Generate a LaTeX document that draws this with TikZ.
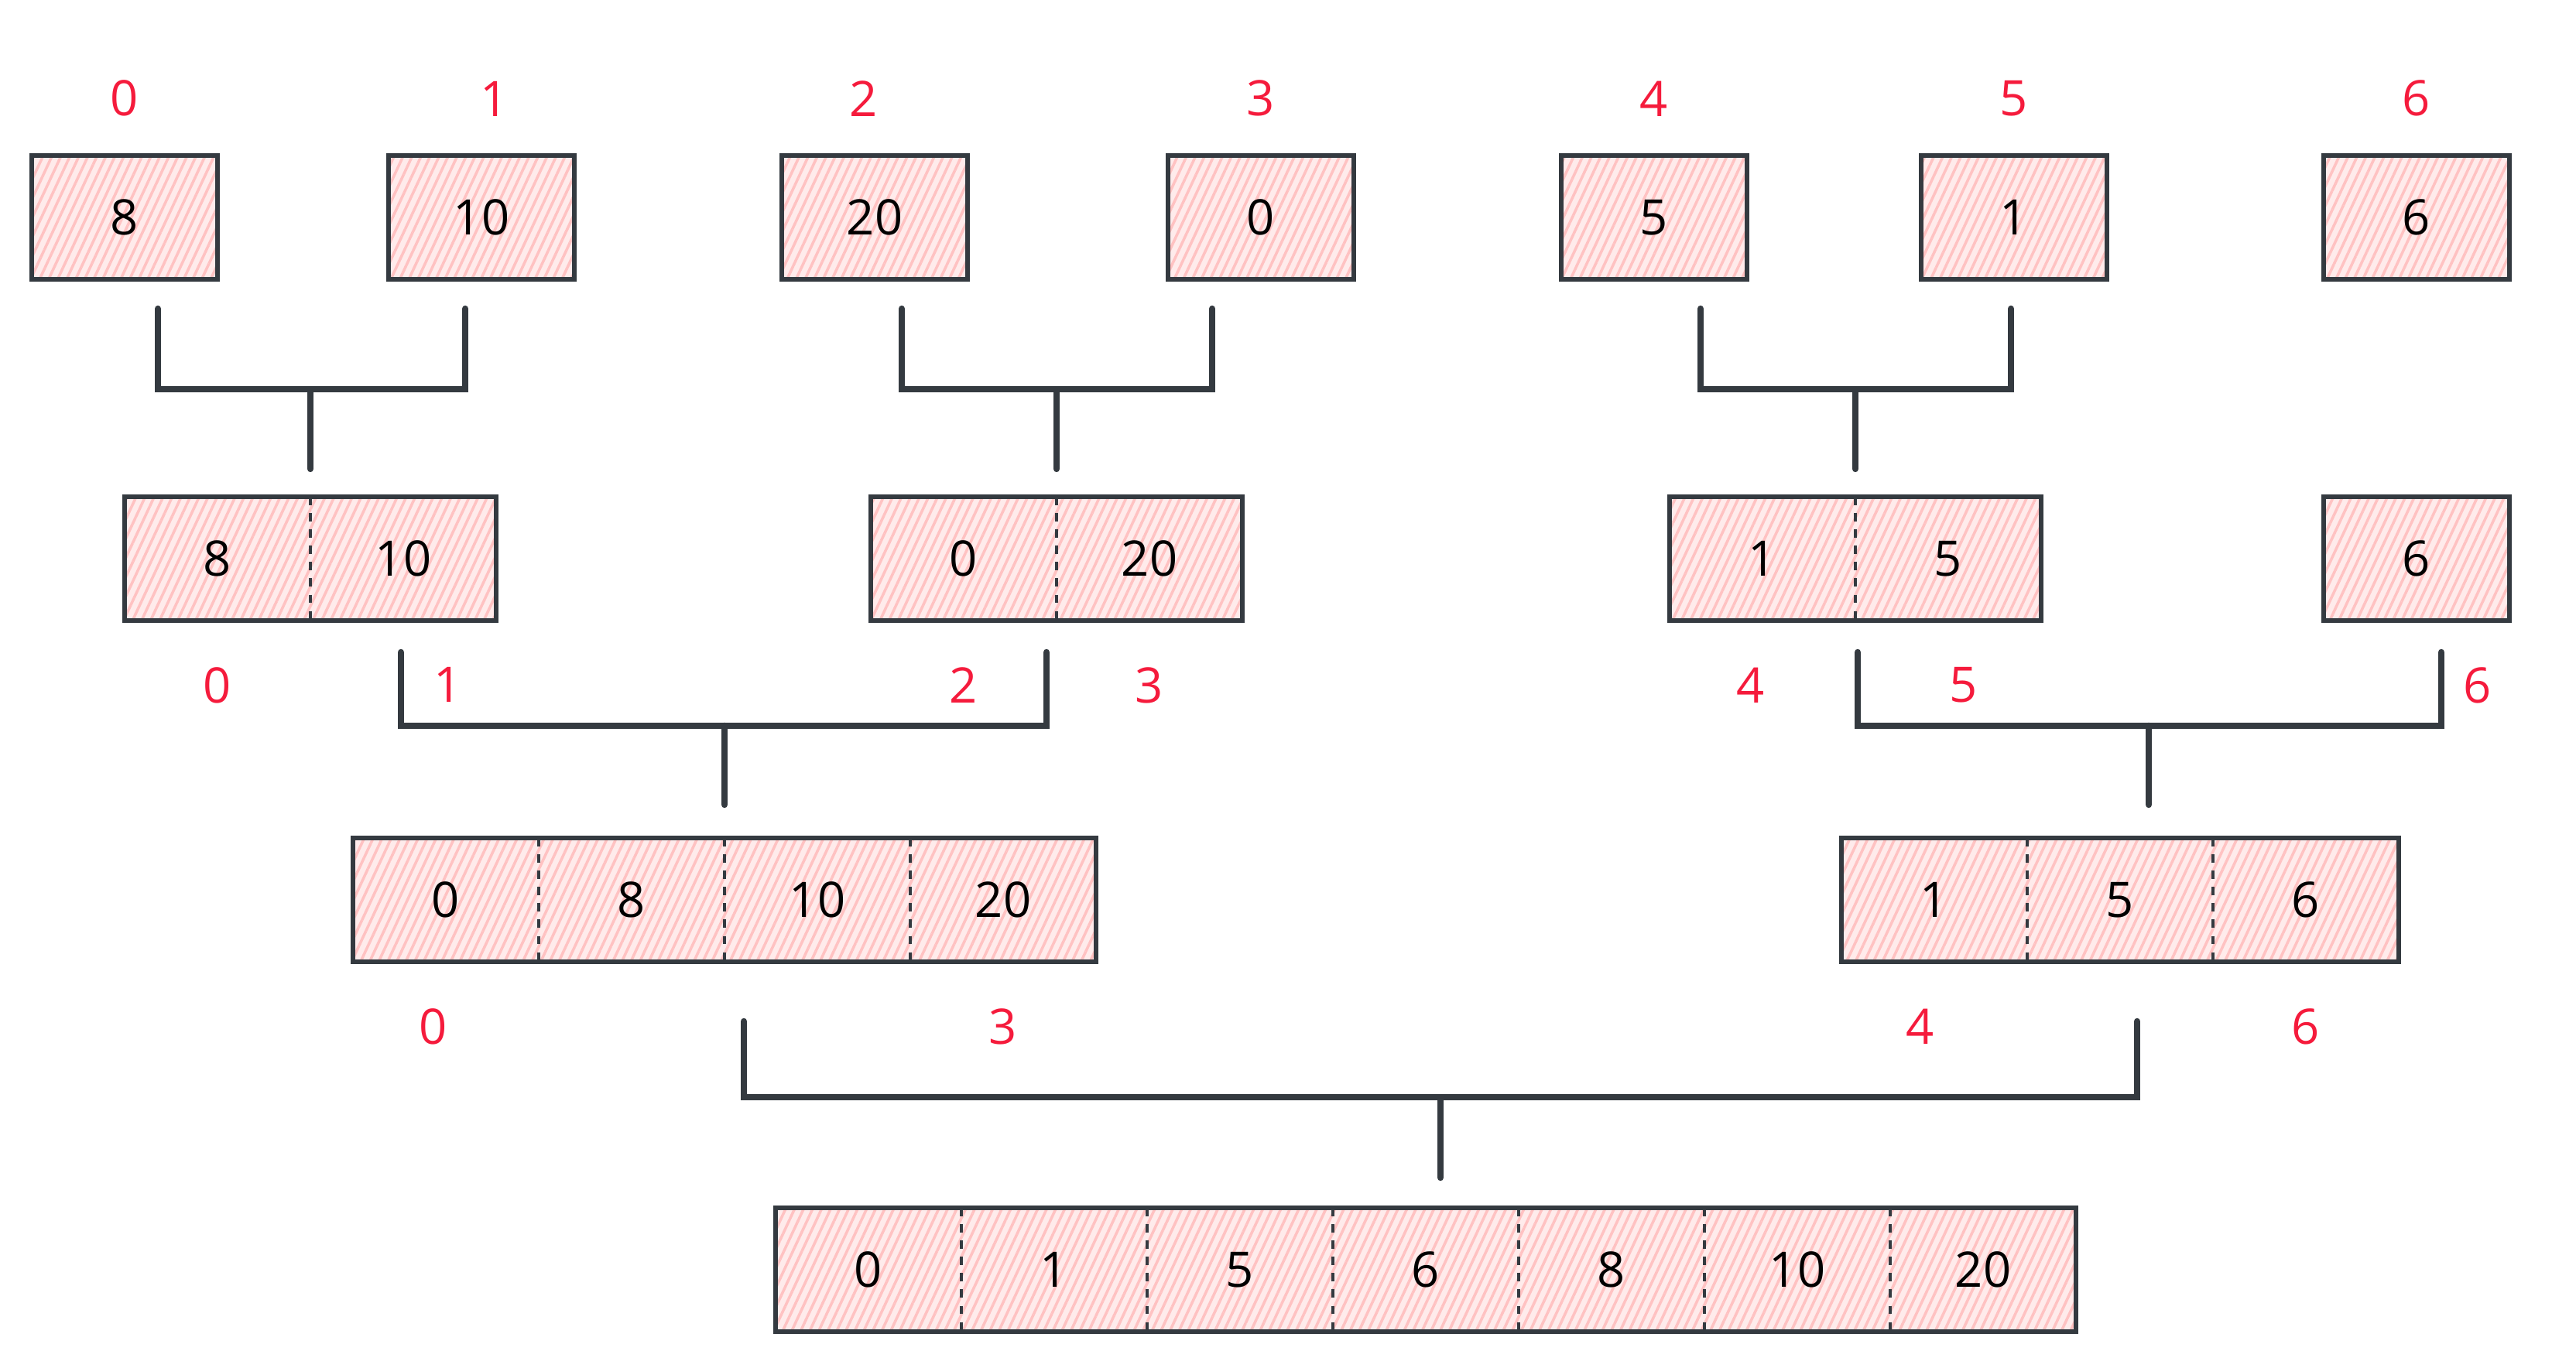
\documentclass[tikz,border=0pt]{standalone}
\usepackage{fontspec}
\setmainfont{Open Sans}
\usepackage{xcolor}
\usepackage{tikz}
\usetikzlibrary{positioning, patterns.meta}

\definecolor{ink}{HTML}{343A40}
\definecolor{idxred}{HTML}{F51B3C}
\definecolor{hatch}{HTML}{FFC2C2}
\definecolor{hatchbg}{HTML}{FFEBEB}

\begin{document}
\begin{tikzpicture}[
node distance=5mm,
cell/.style={rectangle, minimum width=24mm, minimum height=16mm, inner sep=0pt, outer sep=0pt, preaction={fill=hatchbg}, pattern={Lines[angle=65, distance=3pt, line width=1pt]}, pattern color=hatch, font=\fontsize{18}{20}\selectfont},
box/.style={cell, draw=ink, line width=1.6pt},
border/.style={draw=ink, line width=1.6pt},
divider/.style={draw=ink, dashed, line width=0.9pt},
bracket/.style={draw=ink, line width=2.4pt, line cap=round},
idx/.style={text=idxred, inner sep=0pt, font=\fontsize{18}{20}\selectfont}
]
\useasboundingbox (0,0) rectangle (33.28,-17.68);

% input, one value per box
\node[box] (b0) at (1.61,-2.81) {8};
\node[box] (b1) at (6.22,-2.81) {10};
\node[box] (b2) at (11.30,-2.81) {20};
\node[box] (b3) at (16.29,-2.81) {0};
\node[box] (b4) at (21.37,-2.81) {5};
\node[box] (b5) at (26.02,-2.81) {1};
\node[box] (b6) at (31.22,-2.81) {6};

\node[idx, above=5mm of b0] (i0) {0};
\node[idx, above=5mm of b1, xshift=1.7mm] (i1) {1};
\node[idx, above=5mm of b2, xshift=-1.4mm] (i2) {2};
\node[idx, above=5mm of b3] (i3) {3};
\node[idx, above=5mm of b4] (i4) {4};
\node[idx, above=5mm of b5] (i5) {5};
\node[idx, above=5mm of b6] (i6) {6};

% pairs
\node[cell] (c0) at (2.81,-7.22) {8};
\node[cell, right=0pt of c0] (c1) {10};
\node[cell] (c2) at (12.45,-7.22) {0};
\node[cell, right=0pt of c2] (c3) {20};
\node[cell] (c4) at (22.77,-7.22) {1};
\node[cell, right=0pt of c4] (c5) {5};
\node[box] (c6) at (31.22,-7.22) {6};
\draw[border] (c0.north west) rectangle (c1.south east);
\draw[border] (c2.north west) rectangle (c3.south east);
\draw[border] (c4.north west) rectangle (c5.south east);
\foreach \c in {c0,c2,c4}
  \draw[divider] (\c.north east) -- (\c.south east);

\node[idx, below=6mm of c0] (j0) {0};
\node[idx, below=6mm of c1, xshift=5.8mm] (j1) {1};
\node[idx, below=6mm of c2] (j2) {2};
\node[idx, below=6mm of c3] (j3) {3};
\node[idx, below=6mm of c4, xshift=-1.5mm] (j4) {4};
\node[idx, below=6mm of c5, xshift=2mm] (j5) {5};
\node[idx, below=6mm of c6, xshift=7.9mm] (j6) {6};

% quads
\node[cell] (d0) at (5.76,-11.63) {0};
\node[cell, right=0pt of d0] (d1) {8};
\node[cell, right=0pt of d1] (d2) {10};
\node[cell, right=0pt of d2] (d3) {20};
\node[cell] (d4) at (24.99,-11.63) {1};
\node[cell, right=0pt of d4] (d5) {5};
\node[cell, right=0pt of d5] (d6) {6};
\draw[border] (d0.north west) rectangle (d3.south east);
\draw[border] (d4.north west) rectangle (d6.south east);
\foreach \c in {d0,d1,d2,d4,d5}
  \draw[divider] (\c.north east) -- (\c.south east);

\node[idx, below=6mm of d0, xshift=-1.6mm] (k0) {0};
\node[idx, below=6mm of d3] (k3) {3};
\node[idx, below=6mm of d4, xshift=-1.8mm] (k4) {4};
\node[idx, below=6mm of d6] (k6) {6};

% result
\node[cell] (e0) at (11.22,-16.41) {0};
\node[cell, right=0pt of e0] (e1) {1};
\node[cell, right=0pt of e1] (e2) {5};
\node[cell, right=0pt of e2] (e3) {6};
\node[cell, right=0pt of e3] (e4) {8};
\node[cell, right=0pt of e4] (e5) {10};
\node[cell, right=0pt of e5] (e6) {20};
\draw[border] (e0.north west) rectangle (e6.south east);
\foreach \c in {e0,e1,e2,e3,e4,e5}
  \draw[divider] (\c.north east) -- (\c.south east);

% merge brackets
\draw[bracket] ([xshift=4.3mm,yshift=-3.8mm]b0.south) -- ++(0,-1.04) -| ([xshift=-2.1mm,yshift=-3.8mm]b1.south);
\draw[bracket] ([yshift=3.6mm]c0.north east) -- ++(0,1.02);
\draw[bracket] ([xshift=3.5mm,yshift=-3.8mm]b2.south) -- ++(0,-1.04) -| ([xshift=-6.3mm,yshift=-3.8mm]b3.south);
\draw[bracket] ([yshift=3.6mm]c2.north east) -- ++(0,1.02);
\draw[bracket] ([xshift=6mm,yshift=-3.8mm]b4.south) -- ++(0,-1.04) -| ([xshift=-0.4mm,yshift=-3.8mm]b5.south);
\draw[bracket] ([yshift=3.6mm]c4.north east) -- ++(0,1.02);

\draw[bracket] ([xshift=-0.3mm,yshift=-4.1mm]c1.south) -- ++(0,-0.95) -| ([xshift=-1.3mm,yshift=-4.1mm]c2.south east);
\draw[bracket] ([yshift=4.3mm]d1.north east) -- ++(0,1.02);
\draw[bracket] ([xshift=0.3mm,yshift=-4.1mm]c4.south east) -- ++(0,-0.95) -| ([xshift=3.2mm,yshift=-4.1mm]c6.south);
\draw[bracket] ([xshift=3.7mm,yshift=4.3mm]d5.north) -- ++(0,1.02);

\draw[bracket] ([xshift=2.5mm,yshift=-7.7mm]d1.south east) -- ++(0,-0.98) -| ([xshift=2.2mm,yshift=-7.7mm]d5.south);
\draw[bracket] ([xshift=1.9mm,yshift=3.9mm]e3.north) -- ++(0,1.04);

\end{tikzpicture}
\end{document}
